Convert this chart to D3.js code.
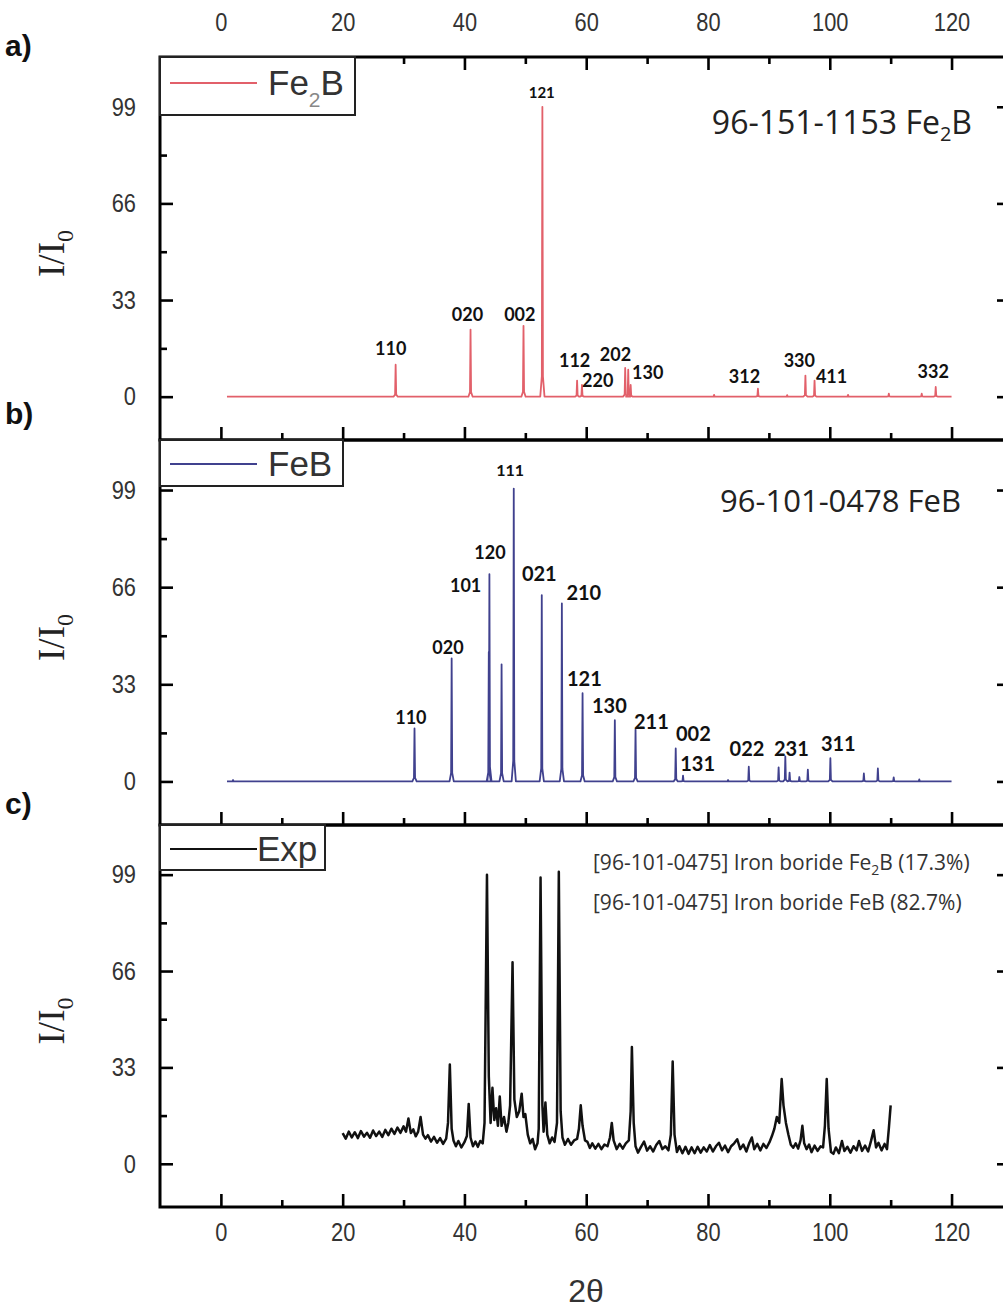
<!DOCTYPE html>
<html>
<head>
<meta charset="utf-8">
<script src="https://cdn.jsdelivr.net/npm/d3@7"></script>
<style>
  body { margin: 0; background: #fff; overflow: hidden; }
  svg { display: block; }
</style>
</head>
<body>
<svg id="chart" width="1003" height="1314"></svg>
<script>
// ---- axis ticks ----
const xMajorTicks = [0, 20, 40, 60, 80, 100, 120];
const xMinorTicks = [10, 30, 50, 70, 90, 110];
const yMajorTicks = [0, 33, 66, 99];
const yMinorTicks = [16.5, 49.5, 82.5];

// ---- Fe2B reference pattern (96-151-1153): peak 2θ, relative intensity ----
const fe2bPos = [28.7, 41.0, 49.7, 52.8, 58.5, 59.3, 66.4, 66.9, 67.3, 81.0, 88.2, 93.0, 96.0, 97.5, 103.0, 109.7, 115.1, 117.4];
const fe2bInt = [10.9, 22.9, 24.2, 99.0, 5.5, 4.0, 9.8, 9.2, 4.0, 0.6, 2.7, 0.5, 7.2, 5.5, 0.6, 1.0, 1.0, 3.3];
// hkl labels and where each sits (2θ, I/I0)
const fe2bLabels = [
  ["110", 27.9, 14.3], ["020", 40.5, 25.9], ["002", 49.1, 25.9], ["121", 52.7, 102.0],
  ["112", 58.1, 10.2], ["220", 61.9, 3.4], ["202", 64.8, 12.3], ["130", 70.1, 6.1],
  ["312", 86.0, 4.8], ["330", 95.0, 10.2], ["411", 100.3, 4.8], ["332", 117.0, 6.5]
];

// ---- FeB reference pattern (96-101-0478) ----
const febPos = [2.0, 31.8, 37.9, 44.0, 44.1, 46.1, 48.1, 52.7, 56.0, 59.4, 64.7, 68.1, 74.7, 75.9, 83.3, 86.7, 91.6, 92.7, 93.4, 95.0, 96.4, 100.1, 105.6, 107.9, 110.5, 114.7];
const febInt = [0.5, 18.0, 41.8, 44.0, 70.4, 39.8, 99.5, 63.3, 60.5, 30.0, 20.8, 17.6, 11.2, 2.0, 0.5, 5.0, 4.8, 8.5, 3.0, 1.5, 4.0, 7.9, 2.7, 4.4, 1.4, 0.7];
const febLabels = [
  ["110", 31.2, 19.4], ["020", 37.3, 43.2], ["101", 40.2, 64.3], ["120", 44.2, 75.5],
  ["111", 47.5, 103.7], ["021", 52.3, 68.0], ["210", 59.6, 61.6], ["121", 59.7, 32.3],
  ["130", 63.8, 23.1], ["211", 70.7, 17.7], ["002", 77.6, 13.6], ["131", 78.3, 3.4],
  ["022", 86.4, 8.8], ["231", 93.7, 8.8], ["311", 101.4, 10.5]
];

// ---- measured pattern: [2θ, I/I0] ----
const expData = [
  [20,10.5],[20.5,8.6],[21,11.0],[21.5,9.0],[22,10.8],[22.5,8.8],[23,11.2],[23.5,9.3],[24,10.6],[24.5,8.9],
  [25,11.4],[25.5,9.5],[26,11.0],[26.5,9.2],[27,11.6],[27.5,9.8],[28,12.0],[28.5,10.2],[29,12.4],[29.5,10.6],
  [30,12.8],[30.4,11.0],[30.8,15.5],[31.2,10.5],[31.6,11.8],[32.0,9.4],[32.4,11.0],[32.8,16.0],[33.2,10.0],[33.6,8.6],
  [34.0,9.8],[34.5,7.6],[35,9.2],[35.5,7.2],[36,8.8],[36.5,6.8],[37.0,8.6],[37.3,14],[37.6,34.0],[37.9,12],
  [38.2,8.0],[38.6,6.0],[39.0,7.8],[39.5,5.6],[40.0,7.4],[40.4,9.5],[40.7,20.5],[41.0,9.0],[41.4,6.0],[41.8,7.6],
  [42.2,5.8],[42.6,7.8],[43.0,7.0],[43.3,14],[43.7,99.0],[44.0,30],[44.3,14],[44.6,26],[44.9,15],[45.2,19],
  [45.5,13],[45.8,23],[46.1,13],[46.5,16],[46.9,11],[47.2,14],[47.5,20],[47.9,69],[48.2,22],[48.6,16],
  [49.0,18],[49.4,24],[49.7,16],[50.0,17],[50.4,10],[50.8,7],[51.2,8.5],[51.6,5],[52.0,7],[52.2,12],
  [52.5,98],[52.8,20],[53.0,11],[53.3,21],[53.6,10],[54.0,7],[54.4,9],[54.8,7.5],[55.2,14],[55.5,100],
  [55.8,18],[56.1,9],[56.5,6.5],[57.0,8.5],[57.5,6.5],[58.0,8.0],[58.5,8.5],[58.8,12],[59.1,20],[59.4,13],
  [59.8,8],[60.2,7.5],[60.6,5.4],[61.0,7.0],[61.5,5.2],[62.0,6.8],[62.5,5.0],[63.0,6.6],[63.5,6.0],[63.9,9],
  [64.2,14],[64.5,8],[65.0,5.0],[65.5,6.8],[66.0,5.2],[66.5,7.0],[67.0,8.0],[67.3,18],[67.5,40],[67.8,14],
  [68.1,6],[68.5,3.8],[69.0,5.8],[69.5,7.6],[70.0,4.5],[70.5,6.0],[71.0,4.2],[71.5,6.4],[72.0,7.8],[72.5,5.0],
  [73.0,6.0],[73.5,4.6],[73.9,10],[74.2,35],[74.5,10],[74.9,4.0],[75.3,6.0],[75.8,3.6],[76.3,5.8],[76.8,3.4],
  [77.3,5.6],[77.8,3.6],[78.3,5.8],[78.8,3.8],[79.3,5.6],[79.8,4.2],[80.3,6.4],[80.8,4.2],[81.3,6.0],[81.8,7.2],
  [82.3,4.6],[82.8,6.2],[83.3,4.0],[83.8,6.0],[84.3,7.0],[84.8,8.4],[85.3,5.0],[85.8,6.6],[86.3,4.2],[86.8,7.2],
  [87.2,9.0],[87.6,5.0],[88.1,6.8],[88.6,4.6],[89.1,6.8],[89.6,5.4],[90.1,7.4],[90.5,9.5],[90.9,12],[91.3,16],
  [91.7,14],[92.1,29],[92.4,20],[92.8,14],[93.2,10],[93.6,6.5],[94.0,5.5],[94.4,7.0],[94.8,5.2],[95.2,8],
  [95.5,13],[95.8,7],[96.2,5.0],[96.6,6.6],[97.0,4.0],[97.5,6.2],[98.0,4.4],[98.5,6.0],[98.9,5.6],[99.2,13],
  [99.5,29],[99.8,12],[100.2,4.0],[100.6,3.4],[101.0,5.6],[101.5,3.6],[102.0,7.8],[102.4,4.4],[102.9,5.8],[103.4,3.8],
  [103.9,6.0],[104.4,4.6],[104.8,7.8],[105.3,4.4],[105.8,6.2],[106.3,4.2],[106.8,8.0],[107.2,11.5],[107.6,5.6],[108.0,7.2],
  [108.5,4.6],[109.0,6.8],[109.4,5.0],[109.7,12],[110.0,20]
];

// ---- layout ----
const svg = d3.select("#chart");
const x = d3.scaleLinear().domain([-10, 129.6]).range([160, 1010]);

const panels = [
  { key: "a)", top: 57,  bottom: 440, labelY: 56 },
  { key: "b)", top: 440, bottom: 825, labelY: 424 },
  { key: "c)", top: 825, bottom: 1207, labelY: 814 }
];
panels.forEach(p => {
  p.y = d3.scaleLinear().domain([-14.8, 116]).range([p.bottom, p.top]);
});

const tickFont = "'Liberation Sans', Arial, sans-serif";
const tickColor = "#333";
const narrow = 0.84; // condensed tick digits

function styleAxis(g) {
  g.select(".domain").remove();
  g.selectAll(".tick line").attr("stroke", "#000").attr("stroke-width", 2.6);
  g.selectAll(".tick text")
    .attr("fill", tickColor)
    .style("font-family", tickFont)
    .style("font-size", "26px")
    .attr("x", function () { return (+d3.select(this).attr("x") || 0) / narrow; })
    .attr("transform", `scale(${narrow},1)`);
}

// stick pattern drawn as narrow spikes on a flat baseline
function stickPoints(pos, inten, start, end) {
  const order = d3.range(pos.length).sort((i, j) => pos[i] - pos[j]);
  const pts = [[start, 0]];
  order.forEach(i => {
    const p = pos[i], h = inten[i];
    pts.push([p - 0.35, 0], [p - 0.09, h * 0.07], [p, h], [p + 0.09, h * 0.07], [p + 0.35, 0]);
  });
  pts.push([end, 0]);
  return pts;
}

panels.forEach((p, idx) => {
  const g = svg.append("g");
  const y = p.y;

  // axes: ticks point inward
  const showBottom = idx === 2;
  g.append("g").attr("transform", `translate(0,${p.bottom})`)
    .call(d3.axisBottom(x).tickValues(xMajorTicks).tickSize(-13).tickPadding(16)
      .tickFormat(showBottom ? d3.format("d") : () => ""))
    .call(styleAxis);
  g.append("g").attr("transform", `translate(0,${p.bottom})`)
    .call(d3.axisBottom(x).tickValues(xMinorTicks).tickSize(-7).tickFormat(() => ""))
    .call(styleAxis);
  if (idx === 0) {
    g.append("g").attr("transform", `translate(0,${p.top})`)
      .call(d3.axisTop(x).tickValues(xMajorTicks).tickSize(-13).tickPadding(26).tickFormat(d3.format("d")))
      .call(styleAxis);
    g.append("g").attr("transform", `translate(0,${p.top})`)
      .call(d3.axisTop(x).tickValues(xMinorTicks).tickSize(-7).tickFormat(() => ""))
      .call(styleAxis);
  }
  g.append("g").attr("transform", `translate(${x.range()[0]},0)`)
    .call(d3.axisLeft(y).tickValues(yMajorTicks).tickSize(-13).tickPadding(24).tickFormat(d3.format("d")))
    .call(styleAxis);
  g.append("g").attr("transform", `translate(${x.range()[0]},0)`)
    .call(d3.axisLeft(y).tickValues(yMinorTicks).tickSize(-7).tickFormat(() => ""))
    .call(styleAxis);
  g.append("g").attr("transform", `translate(${x.range()[1]},0)`)
    .call(d3.axisRight(y).tickValues(yMajorTicks).tickSize(-13).tickFormat(() => ""))
    .call(styleAxis);
  g.append("g").attr("transform", `translate(${x.range()[1]},0)`)
    .call(d3.axisRight(y).tickValues(yMinorTicks).tickSize(-7).tickFormat(() => ""))
    .call(styleAxis);

  // frame
  g.append("rect")
    .attr("x", x.range()[0]).attr("y", p.top)
    .attr("width", x.range()[1] - x.range()[0]).attr("height", p.bottom - p.top)
    .attr("fill", "none").attr("stroke", "#000").attr("stroke-width", 3);

  // y-axis title I/I0
  const t = g.append("text")
    .attr("transform", `translate(64,${(p.top + p.bottom) / 2 + 5}) rotate(-90)`)
    .attr("text-anchor", "middle")
    .style("font-family", "'Liberation Serif', 'Times New Roman', serif")
    .style("font-size", "37px")
    .attr("fill", "#222");
  t.append("tspan").text("I/I");
  t.append("tspan").attr("dy", 9).style("font-size", "24px").text("0");

  // panel letter
  g.append("text")
    .attr("x", 5).attr("y", p.labelY)
    .style("font-family", "'Liberation Sans', Arial, sans-serif")
    .style("font-weight", "bold").style("font-size", "30px")
    .attr("fill", "#111").text(p.key);
});

const line = (y) => d3.line().x(d => x(d[0])).y(d => y(d[1]));
const hklFont = "Lato, 'Open Sans', sans-serif";

// ---- panel a: Fe2B ----
{
  const p = panels[0];
  svg.append("path")
    .datum(stickPoints(fe2bPos, fe2bInt, 1, 120))
    .attr("d", line(p.y)).attr("fill", "none")
    .attr("stroke", "#e2606a").attr("stroke-width", 1.8).attr("stroke-linejoin", "round");
  svg.append("g").selectAll("text").data(fe2bLabels).join("text")
    .attr("x", d => x(d[1])).attr("y", d => p.y(d[2]))
    .attr("text-anchor", "middle")
    .style("font-family", hklFont).style("font-weight", "bold")
    .style("font-size", d => d[0] === "121" ? "15px" : "18px")
    .attr("fill", "#111").text(d => d[0]);
}

// ---- panel b: FeB ----
{
  const p = panels[1];
  svg.append("path")
    .datum(stickPoints(febPos, febInt, 1, 120))
    .attr("d", line(p.y)).attr("fill", "none")
    .attr("stroke", "#40418e").attr("stroke-width", 1.8).attr("stroke-linejoin", "round");
  const smallB = ["110", "020", "101", "120"];
  svg.append("g").selectAll("text").data(febLabels).join("text")
    .attr("x", d => x(d[1])).attr("y", d => p.y(d[2]))
    .attr("text-anchor", "middle")
    .style("font-family", hklFont).style("font-weight", "bold")
    .style("font-size", d => d[0] === "111" && d[1] < 50 ? "16px" : (smallB.includes(d[0]) && d[1] < 46 ? "18px" : "20px"))
    .attr("fill", "#111").text(d => d[0]);
}

// ---- panel c: measured ----
{
  const p = panels[2];
  svg.append("path")
    .datum(expData)
    .attr("d", line(p.y)).attr("fill", "none")
    .attr("stroke", "#111").attr("stroke-width", 2.5).attr("stroke-linejoin", "round");
}

// ---- legends ----
const legends = [
  { panel: 0, w: 195, h: 58, color: "#e2606a", name: "Fe", sub: "2", tail: "B", textX: 268, lineEnd: 257 },
  { panel: 1, w: 183, h: 46, color: "#40418e", name: "FeB", sub: null, tail: "", textX: 268, lineEnd: 257 },
  { panel: 2, w: 165, h: 45, color: "#111", name: "Exp", sub: null, tail: "", textX: 257, lineEnd: 257 }
];
legends.forEach(l => {
  const p = panels[l.panel];
  const g = svg.append("g");
  g.append("rect").attr("x", 160).attr("y", p.top).attr("width", l.w).attr("height", l.h)
    .attr("fill", "#fff").attr("stroke", "#222").attr("stroke-width", 2);
  const ly = p.top + (l.panel === 0 ? 26 : 24);
  g.append("line").attr("x1", 170).attr("x2", l.lineEnd).attr("y1", ly).attr("y2", ly)
    .attr("stroke", l.color).attr("stroke-width", 2);
  const t = g.append("text").attr("x", l.textX).attr("y", ly + 12)
    .style("font-family", "'Liberation Sans', Arial, sans-serif").style("font-size", "35px")
    .attr("fill", "#333");
  t.append("tspan").text(l.name);
  if (l.sub) {
    t.append("tspan").attr("dy", 12).style("font-size", "21px").attr("fill", "#888").text(l.sub);
    t.append("tspan").attr("dy", -12).text(l.tail);
  }
});

// ---- phase annotations ----
const annoFont = "'Open Sans', 'Noto Sans', sans-serif";
{
  const t = svg.append("text").attr("x", 972).attr("y", 134).attr("text-anchor", "end")
    .style("font-family", annoFont).style("font-size", "32px").attr("fill", "#222");
  t.append("tspan").text("96-151-1153 Fe");
  t.append("tspan").attr("dy", 7).style("font-size", "20px").text("2");
  t.append("tspan").attr("dy", -7).text("B");

  svg.append("text").attr("x", 961).attr("y", 512).attr("text-anchor", "end")
    .style("font-family", annoFont).style("font-size", "31px").attr("fill", "#222")
    .text("96-101-0478 FeB");

  const c1 = svg.append("text").attr("x", 593).attr("y", 870)
    .style("font-family", annoFont).style("font-size", "21px").attr("fill", "#333");
  c1.append("tspan").text("[96-101-0475]  Iron boride Fe");
  c1.append("tspan").attr("dy", 5).style("font-size", "14px").text("2");
  c1.append("tspan").attr("dy", -5).text("B (17.3%)");

  svg.append("text").attr("x", 593).attr("y", 910)
    .style("font-family", annoFont).style("font-size", "21px").attr("fill", "#333")
    .text("[96-101-0475]  Iron boride FeB (82.7%)");
}

// ---- x-axis title ----
svg.append("text").attr("x", 586).attr("y", 1302).attr("text-anchor", "middle")
  .style("font-family", "'Liberation Sans', Arial, sans-serif").style("font-size", "32px")
  .attr("fill", "#333").text("2θ");
</script>
</body>
</html>
